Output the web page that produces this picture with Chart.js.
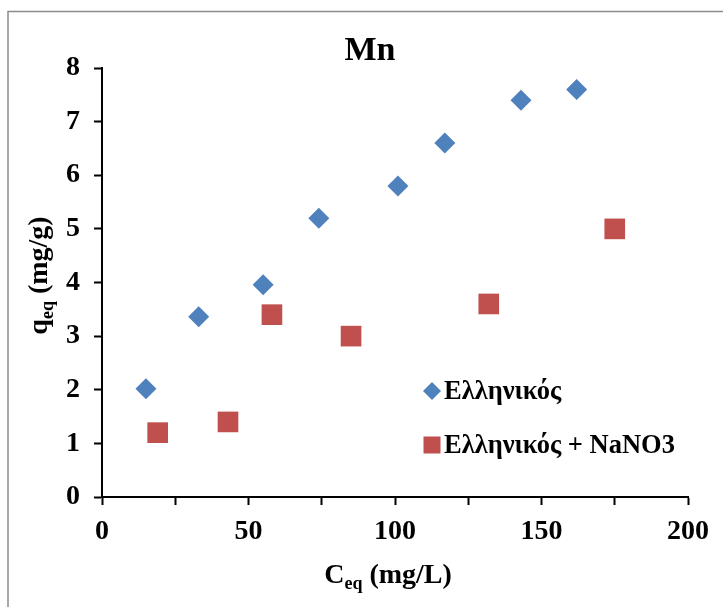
<!DOCTYPE html>
<html>
<head>
<meta charset="utf-8">
<script src="https://cdn.jsdelivr.net/npm/chart.js@4.4.1/dist/chart.umd.min.js"></script>
<style>
  html, body { margin: 0; padding: 0; background: #fff; }
  #wrap { width: 723px; height: 607px; position: relative; }
</style>
</head>
<body>
<div id="wrap"><canvas id="c" width="723" height="607"></canvas></div>
<script>
// ---- data ----
const seriesNames = ['Ελληνικός', 'Ελληνικός + NaNO3'];
const greekX = [15, 33, 55, 74, 101, 117, 143, 162];
const greekY = [2.02, 3.36, 3.96, 5.2, 5.8, 6.6, 7.4, 7.6];
const nitrateX = [19, 43, 58, 85, 132, 175];
const nitrateY = [1.2, 1.4, 3.4, 3.0, 3.6, 5.0];
const xTickLabels = ['0', '50', '100', '150', '200'];
const yTickLabels = ['0', '1', '2', '3', '4', '5', '6', '7', '8'];
const titleText = 'Mn';

const FONT = '"Liberation Serif", "Times New Roman", serif';
const BLUE = '#4F81BD';
const RED = '#C0504D';

function toPoints(xs, ys) { return xs.map((x, i) => ({ x: x, y: ys[i] })); }

const decorPlugin = {
  id: 'decor',
  beforeDraw(chart) {
    const ctx = chart.ctx;
    ctx.save();
    ctx.fillStyle = '#fff';
    ctx.fillRect(0, 0, chart.width, chart.height);
    ctx.strokeStyle = '#8c8c8c';
    ctx.lineWidth = 1.5;
    ctx.strokeRect(8, 11.5, chart.width + 10, chart.height + 10);
    ctx.restore();
  },
  afterDraw(chart) {
    const ctx = chart.ctx;
    const a = chart.chartArea;
    ctx.save();
    ctx.fillStyle = '#000';
    // x axis title with subscript
    const big = 'bold 28px ' + FONT, small = 'bold 18px ' + FONT;
    ctx.textBaseline = 'alphabetic';
    ctx.font = big; const wC = ctx.measureText('C').width;
    const wRest = ctx.measureText(' (mg/L)').width;
    ctx.font = small; const wSub = ctx.measureText('eq').width;
    let total = wC + wSub + wRest;
    let cx = (a.left + a.right) / 2 - 7;
    let x0 = cx - total / 2, by = 583;
    ctx.font = big; ctx.fillText('C', x0, by);
    ctx.font = small; ctx.fillText('eq', x0 + wC, by + 6);
    ctx.font = big; ctx.fillText(' (mg/L)', x0 + wC + wSub, by);

    // y axis title rotated
    ctx.save();
    ctx.translate(38, (a.top + a.bottom) / 2 - 7);
    ctx.rotate(-Math.PI / 2);
    ctx.font = big; const wq = ctx.measureText('q').width;
    const wr = ctx.measureText(' (mg/g)').width;
    ctx.font = small; const ws = ctx.measureText('eq').width;
    total = wq + ws + wr;
    x0 = -total / 2;
    ctx.font = big; ctx.fillText('q', x0, 9);
    ctx.font = small; ctx.fillText('eq', x0 + wq, 15);
    ctx.font = big; ctx.fillText(' (mg/g)', x0 + wq + ws, 9);
    ctx.restore();

    // legend inside plot
    const lx = a.left + 330, ly1 = a.top + 323, ly2 = a.top + 377;
    ctx.fillStyle = BLUE;
    ctx.beginPath();
    ctx.moveTo(lx, ly1 - 9); ctx.lineTo(lx + 9, ly1); ctx.lineTo(lx, ly1 + 9); ctx.lineTo(lx - 9, ly1);
    ctx.closePath(); ctx.fill();
    ctx.fillStyle = RED;
    ctx.fillRect(lx - 8.5, ly2 - 8.5, 17, 17);
    ctx.fillStyle = '#000';
    ctx.font = 'bold 26.5px ' + FONT;
    ctx.textBaseline = 'middle';
    ctx.fillText(seriesNames[0], lx + 12, ly1 + 1);
    ctx.fillText(seriesNames[1], lx + 12, ly2 + 1);
    ctx.restore();
  }
};

new Chart(document.getElementById('c'), {
  type: 'scatter',
  data: {
    datasets: [
      {
        label: seriesNames[0],
        data: toPoints(greekX, greekY),
        pointStyle: 'rectRot',
        pointRadius: 10.5,
        pointHoverRadius: 10.5,
        backgroundColor: BLUE,
        borderColor: BLUE,
        borderWidth: 0
      },
      {
        label: seriesNames[1],
        data: toPoints(nitrateX, nitrateY),
        pointStyle: 'rect',
        pointRadius: 14.6,
        pointHoverRadius: 14.6,
        backgroundColor: RED,
        borderColor: RED,
        borderWidth: 0
      }
    ]
  },
  options: {
    responsive: false,
    animation: false,
    events: [],
    layout: { padding: { left: 52, right: 35, top: 0, bottom: 0 } },
    plugins: {
      legend: { display: false },
      tooltip: { enabled: false },
      title: {
        display: true,
        text: titleText,
        color: '#000',
        font: { family: FONT, size: 34, weight: 'bold', lineHeight: 1 },
        padding: { top: 34, bottom: 0 }
      }
    },
    scales: {
      x: {
        type: 'linear',
        min: 0, max: 200,
        afterFit(s) { s.height = 110; },
        grid: { display: true, drawOnChartArea: false, drawTicks: true, tickLength: 8, tickColor: '#000', tickWidth: 2 },
        border: { display: true, color: '#000', width: 2 },
        ticks: {
          stepSize: 25,
          padding: 10,
          color: '#000',
          font: { family: FONT, size: 28, weight: 'bold' },
          maxRotation: 0,
          autoSkip: false,
          callback(v) { return v % 50 === 0 ? xTickLabels[v / 50] : ''; }
        }
      },
      y: {
        type: 'linear',
        min: 0, max: 8,
        afterFit(s) { s.width = 50; },
        grid: { display: true, drawOnChartArea: false, drawTicks: true, tickLength: 8, tickColor: '#000', tickWidth: 2 },
        border: { display: true, color: '#000', width: 2 },
        ticks: {
          stepSize: 1,
          padding: 14,
          color: '#000',
          font: { family: FONT, size: 28, weight: 'bold' },
          autoSkip: false,
          callback(v) { return yTickLabels[v]; }
        }
      }
    }
  },
  plugins: [decorPlugin]
});
</script>
</body>
</html>
